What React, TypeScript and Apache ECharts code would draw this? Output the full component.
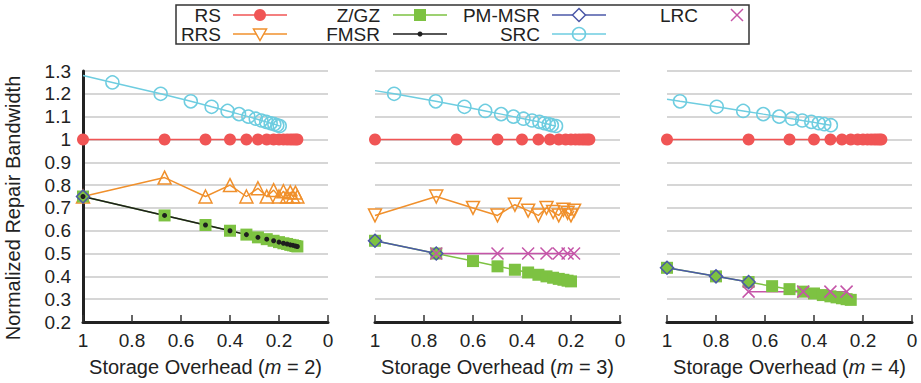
import React, { useEffect, useRef } from "react";
import * as echarts from "echarts";

// ---------- data ----------
const RS_X = [1, 0.667, 0.5, 0.4, 0.333, 0.286, 0.25, 0.222, 0.2, 0.182, 0.167, 0.154, 0.143, 0.133, 0.125];
const RS_Y = [1, 1, 1, 1, 1, 1, 1, 1, 1, 1, 1, 1, 1, 1, 1];

// m = 2
const M2_RRS_X = [1, 0.667, 0.5, 0.4, 0.333, 0.286, 0.25, 0.222, 0.2, 0.182, 0.167, 0.154, 0.143, 0.133, 0.125];
const M2_RRS_Y = [0.75, 0.833, 0.75, 0.8, 0.75, 0.786, 0.75, 0.778, 0.75, 0.773, 0.75, 0.769, 0.75, 0.767, 0.75];
const M2_ZGZ_X = [1, 0.667, 0.5, 0.4, 0.333, 0.286, 0.25, 0.222, 0.2, 0.182, 0.167, 0.154, 0.143, 0.133, 0.125];
const M2_ZGZ_Y = [0.75, 0.667, 0.625, 0.6, 0.583, 0.571, 0.563, 0.556, 0.55, 0.545, 0.542, 0.538, 0.536, 0.533, 0.531];
const M2_FMSR_X = [1, 0.667, 0.5, 0.4, 0.333, 0.286, 0.25, 0.222, 0.2, 0.182, 0.167, 0.154, 0.143, 0.133, 0.125];
const M2_FMSR_Y = [0.75, 0.667, 0.625, 0.6, 0.583, 0.571, 0.563, 0.556, 0.55, 0.545, 0.542, 0.538, 0.536, 0.533, 0.531];
const M2_PM_X = [1];
const M2_PM_Y = [0.75];
const M2_SRC_X = [1, 0.88, 0.683, 0.56, 0.475, 0.41, 0.363, 0.325, 0.295, 0.272, 0.252, 0.234, 0.219, 0.207, 0.197];
const M2_SRC_Y = [1.28, 1.25, 1.2, 1.167, 1.143, 1.125, 1.111, 1.1, 1.091, 1.083, 1.077, 1.071, 1.067, 1.062, 1.059];

// m = 3
const M3_RRS_X = [1, 0.75, 0.6, 0.5, 0.429, 0.375, 0.333, 0.3, 0.273, 0.25, 0.231, 0.214, 0.2, 0.1875];
const M3_RRS_Y = [0.667, 0.75, 0.7, 0.667, 0.714, 0.688, 0.667, 0.7, 0.682, 0.667, 0.692, 0.679, 0.667, 0.688];
const M3_ZGZ_X = [1, 0.75, 0.6, 0.5, 0.429, 0.375, 0.333, 0.3, 0.273, 0.25, 0.231, 0.214, 0.2];
const M3_ZGZ_Y = [0.556, 0.5, 0.467, 0.444, 0.429, 0.417, 0.407, 0.4, 0.394, 0.389, 0.385, 0.381, 0.378];
const M3_PM_X = [1, 0.75];
const M3_PM_Y = [0.556, 0.5];
const M3_SRC_X = [1, 0.922, 0.752, 0.635, 0.55, 0.485, 0.435, 0.394, 0.359, 0.329, 0.309, 0.291, 0.278, 0.261];
const M3_SRC_Y = [1.214, 1.2, 1.167, 1.143, 1.125, 1.111, 1.1, 1.091, 1.083, 1.077, 1.071, 1.067, 1.0625, 1.059];
const M3_LRC_X = [0.75, 0.5, 0.375, 0.3, 0.25, 0.214, 0.1875];
const M3_LRC_Y = [0.5, 0.5, 0.5, 0.5, 0.5, 0.5, 0.5];

// m = 4
const M4_ZGZ_X = [1, 0.8, 0.667, 0.571, 0.5, 0.444, 0.4, 0.364, 0.333, 0.308, 0.286, 0.267, 0.25];
const M4_ZGZ_Y = [0.4375, 0.4, 0.375, 0.357, 0.344, 0.333, 0.325, 0.318, 0.3125, 0.308, 0.304, 0.3, 0.297];
const M4_PM_X = [1, 0.8, 0.667];
const M4_PM_Y = [0.4375, 0.4, 0.375];
const M4_SRC_X = [1, 0.947, 0.797, 0.689, 0.607, 0.542, 0.49, 0.448, 0.411, 0.381, 0.358, 0.331];
const M4_SRC_Y = [1.176, 1.167, 1.143, 1.125, 1.111, 1.1, 1.091, 1.083, 1.077, 1.071, 1.067, 1.0625];
const M4_LRC_X = [0.667, 0.444, 0.333, 0.267];
const M4_LRC_Y = [0.333, 0.333, 0.333, 0.333];

const X_TITLES_M = ["2", "3", "4"];
const Y_TITLE = "Normalized Repair Bandwidth";
const LEGEND_ROW1 = ["RS", "Z/GZ", "PM-MSR", "LRC"];
const LEGEND_ROW2 = ["RRS", "FMSR", "SRC"];

// ---------- styles ----------
const C = {
  RS: "#f05555",
  RRS: "#f0902c",
  ZGZ: "#7dc242",
  FMSR: "#1e1e1e",
  PM: "#4b58a8",
  SRC: "#6ecde0",
  LRC: "#c555a8",
};
const FONT = '"Liberation Sans", Arial, Helvetica, sans-serif';
const CROSS = "path://M0,0L10,10M10,0L0,10";

function pts(xs: number[], ys: number[]) {
  return xs.map((x, i) => [x, ys[i]]);
}

function srcPts(xs: number[], ys: number[]) {
  return xs.map((x, i) => (i === 0 ? { value: [x, ys[i]], symbol: "none" } : [x, ys[i]]));
}

function lineSeries(name: string, data: any[], gi: number, color: string, symbol: any) {
  return {
    name,
    type: "line",
    xAxisIndex: gi,
    yAxisIndex: gi,
    data,
    clip: false,
    lineStyle: { color, width: 1.5 },
    ...symbol,
  };
}

const hollow = (c: string) => ({ color: "rgba(0,0,0,0)", borderColor: c, borderWidth: 1.5 });
const sym = {
  RS: { symbol: "circle", symbolSize: 12, itemStyle: { color: C.RS } },
  RRSup: { symbol: "triangle", symbolSize: 13, itemStyle: hollow(C.RRS) },
  RRSdown: { symbol: "triangle", symbolRotate: 180, symbolSize: 13, itemStyle: hollow(C.RRS) },
  ZGZ: { symbol: "rect", symbolSize: 12, itemStyle: { color: C.ZGZ } },
  FMSR: { symbol: "circle", symbolSize: 5, itemStyle: { color: C.FMSR } },
  PM: { symbol: "diamond", symbolSize: 13, itemStyle: hollow(C.PM) },
  SRC: { symbol: "circle", symbolSize: 13, itemStyle: hollow(C.SRC) },
  LRC: { symbol: CROSS, symbolSize: 12, itemStyle: hollow(C.LRC) },
};

function legendGraphics() {
  const g: any[] = [];
  const rowY = [15, 34];
  const textR = [221, 380, 540, 698];
  const mark = [260, 420, 579, 737];
  g.push({
    type: "rect",
    shape: { x: 176, y: 5, width: 573, height: 39 },
    style: { fill: "none", stroke: "#333", lineWidth: 1.5 },
  });
  const txt = (t: string, x: number, y: number) => ({
    type: "text",
    x,
    y,
    style: { text: t, fontFamily: FONT, fontSize: 19, fill: "#222", align: "right", verticalAlign: "middle" },
  });
  const ln = (cx: number, y: number, color: string) => ({
    type: "line",
    shape: { x1: cx - 27, y1: y, x2: cx + 27, y2: y },
    style: { stroke: color, lineWidth: 1.5 },
  });
  LEGEND_ROW1.forEach((t, i) => g.push(txt(t, textR[i], rowY[0])));
  LEGEND_ROW2.forEach((t, i) => g.push(txt(t, textR[i], rowY[1])));
  // row 1
  let y = rowY[0];
  g.push(ln(mark[0], y, C.RS));
  g.push({ type: "circle", shape: { cx: mark[0], cy: y, r: 6 }, style: { fill: C.RS } });
  g.push(ln(mark[1], y, C.ZGZ));
  g.push({ type: "rect", shape: { x: mark[1] - 6, y: y - 6, width: 12, height: 12 }, style: { fill: C.ZGZ } });
  g.push(ln(mark[2], y, C.PM));
  g.push({
    type: "polygon",
    shape: { points: [[mark[2], y - 6.5], [mark[2] + 6.5, y], [mark[2], y + 6.5], [mark[2] - 6.5, y]] },
    style: { fill: "#fff", stroke: C.PM, lineWidth: 1.5 },
  });
  g.push({ type: "line", shape: { x1: mark[3] - 6, y1: y - 6, x2: mark[3] + 6, y2: y + 6 }, style: { stroke: C.LRC, lineWidth: 1.5 } });
  g.push({ type: "line", shape: { x1: mark[3] + 6, y1: y - 6, x2: mark[3] - 6, y2: y + 6 }, style: { stroke: C.LRC, lineWidth: 1.5 } });
  // row 2
  y = rowY[1];
  g.push(ln(mark[0], y, C.RRS));
  g.push({
    type: "polygon",
    shape: { points: [[mark[0] - 6.5, y - 5], [mark[0] + 6.5, y - 5], [mark[0], y + 6.5]] },
    style: { fill: "#fff", stroke: C.RRS, lineWidth: 1.5 },
  });
  g.push(ln(mark[1], y, C.FMSR));
  g.push({ type: "circle", shape: { cx: mark[1], cy: y, r: 2.5 }, style: { fill: C.FMSR } });
  g.push(ln(mark[2], y, C.SRC));
  g.push({ type: "circle", shape: { cx: mark[2], cy: y, r: 6.5 }, style: { fill: "none", stroke: C.SRC, lineWidth: 1.5 } });
  // y-axis title
  g.push({
    type: "text",
    x: 13,
    y: 208,
    rotation: Math.PI / 2,
    style: { text: Y_TITLE, fontFamily: FONT, fontSize: 20, fill: "#222", align: "center", verticalAlign: "middle" },
  });
  return g;
}

export default function App() {
  const ref = useRef<HTMLDivElement>(null);
  useEffect(() => {
    if (!ref.current) return;
    const chart = echarts.init(ref.current, undefined, { renderer: "svg" });
    const lefts = [83, 375, 667];
    const grids = lefts.map((l) => ({ left: l, top: 71, width: 245, height: 251 }));
    const xAxes = lefts.map((_, i) => ({
      type: "value",
      gridIndex: i,
      min: 0,
      max: 1,
      interval: 0.2,
      inverse: true,
      axisLine: { show: true, onZero: false, lineStyle: { color: "#222", width: 3 } },
      axisTick: { show: true, inside: true, length: 7, lineStyle: { color: "#333", width: 1.5 } },
      axisLabel: { show: true, margin: 9, fontFamily: FONT, fontSize: 19, color: "#222", showMinLabel: true, showMaxLabel: true },
      splitLine: { show: false },
      name: `Storage Overhead ({i|m} = ${X_TITLES_M[i]})`,
      nameLocation: "middle",
      nameGap: 35,
      nameTextStyle: {
        fontFamily: FONT,
        fontSize: 20,
        color: "#222",
        rich: { i: { fontStyle: "italic", fontFamily: FONT, fontSize: 20, color: "#222" } },
      },
    }));
    const yAxes = lefts.map((_, i) => ({
      type: "value",
      gridIndex: i,
      min: 0.2,
      max: 1.3,
      interval: 0.1,
      axisLine: { show: i === 0, onZero: false, lineStyle: { color: "#222", width: 3 } },
      axisTick: { show: false },
      axisLabel: { show: i === 0, margin: 12, fontFamily: FONT, fontSize: 19, color: "#222" },
      splitLine: { show: true, lineStyle: { color: "#d6d6d6", width: 2 } },
    }));
    const series: any[] = [
      // m = 2
      lineSeries("RS", pts(RS_X, RS_Y), 0, C.RS, sym.RS),
      lineSeries("RRS", pts(M2_RRS_X, M2_RRS_Y), 0, C.RRS, sym.RRSup),
      lineSeries("Z/GZ", pts(M2_ZGZ_X, M2_ZGZ_Y), 0, C.ZGZ, sym.ZGZ),
      lineSeries("FMSR", pts(M2_FMSR_X, M2_FMSR_Y), 0, C.FMSR, sym.FMSR),
      lineSeries("PM-MSR", pts(M2_PM_X, M2_PM_Y), 0, C.PM, sym.PM),
      lineSeries("SRC", srcPts(M2_SRC_X, M2_SRC_Y), 0, C.SRC, sym.SRC),
      // m = 3
      lineSeries("RS", pts(RS_X, RS_Y), 1, C.RS, sym.RS),
      lineSeries("RRS", pts(M3_RRS_X, M3_RRS_Y), 1, C.RRS, sym.RRSdown),
      lineSeries("Z/GZ", pts(M3_ZGZ_X, M3_ZGZ_Y), 1, C.ZGZ, sym.ZGZ),
      lineSeries("PM-MSR", pts(M3_PM_X, M3_PM_Y), 1, C.PM, sym.PM),
      lineSeries("SRC", srcPts(M3_SRC_X, M3_SRC_Y), 1, C.SRC, sym.SRC),
      lineSeries("LRC", pts(M3_LRC_X, M3_LRC_Y), 1, C.LRC, sym.LRC),
      // m = 4
      lineSeries("RS", pts(RS_X, RS_Y), 2, C.RS, sym.RS),
      lineSeries("Z/GZ", pts(M4_ZGZ_X, M4_ZGZ_Y), 2, C.ZGZ, sym.ZGZ),
      lineSeries("PM-MSR", pts(M4_PM_X, M4_PM_Y), 2, C.PM, sym.PM),
      lineSeries("SRC", srcPts(M4_SRC_X, M4_SRC_Y), 2, C.SRC, sym.SRC),
      lineSeries("LRC", pts(M4_LRC_X, M4_LRC_Y), 2, C.LRC, sym.LRC),
    ];
    chart.setOption({
      animation: false,
      backgroundColor: "#fff",
      grid: grids,
      xAxis: xAxes,
      yAxis: yAxes,
      series,
      graphic: legendGraphics(),
    });
    return () => chart.dispose();
  }, []);
  return (
    <div
      ref={ref}
      style={{ position: "absolute", left: 0, top: 0, width: 921, height: 383, background: "#fff" }}
    />
  );
}
